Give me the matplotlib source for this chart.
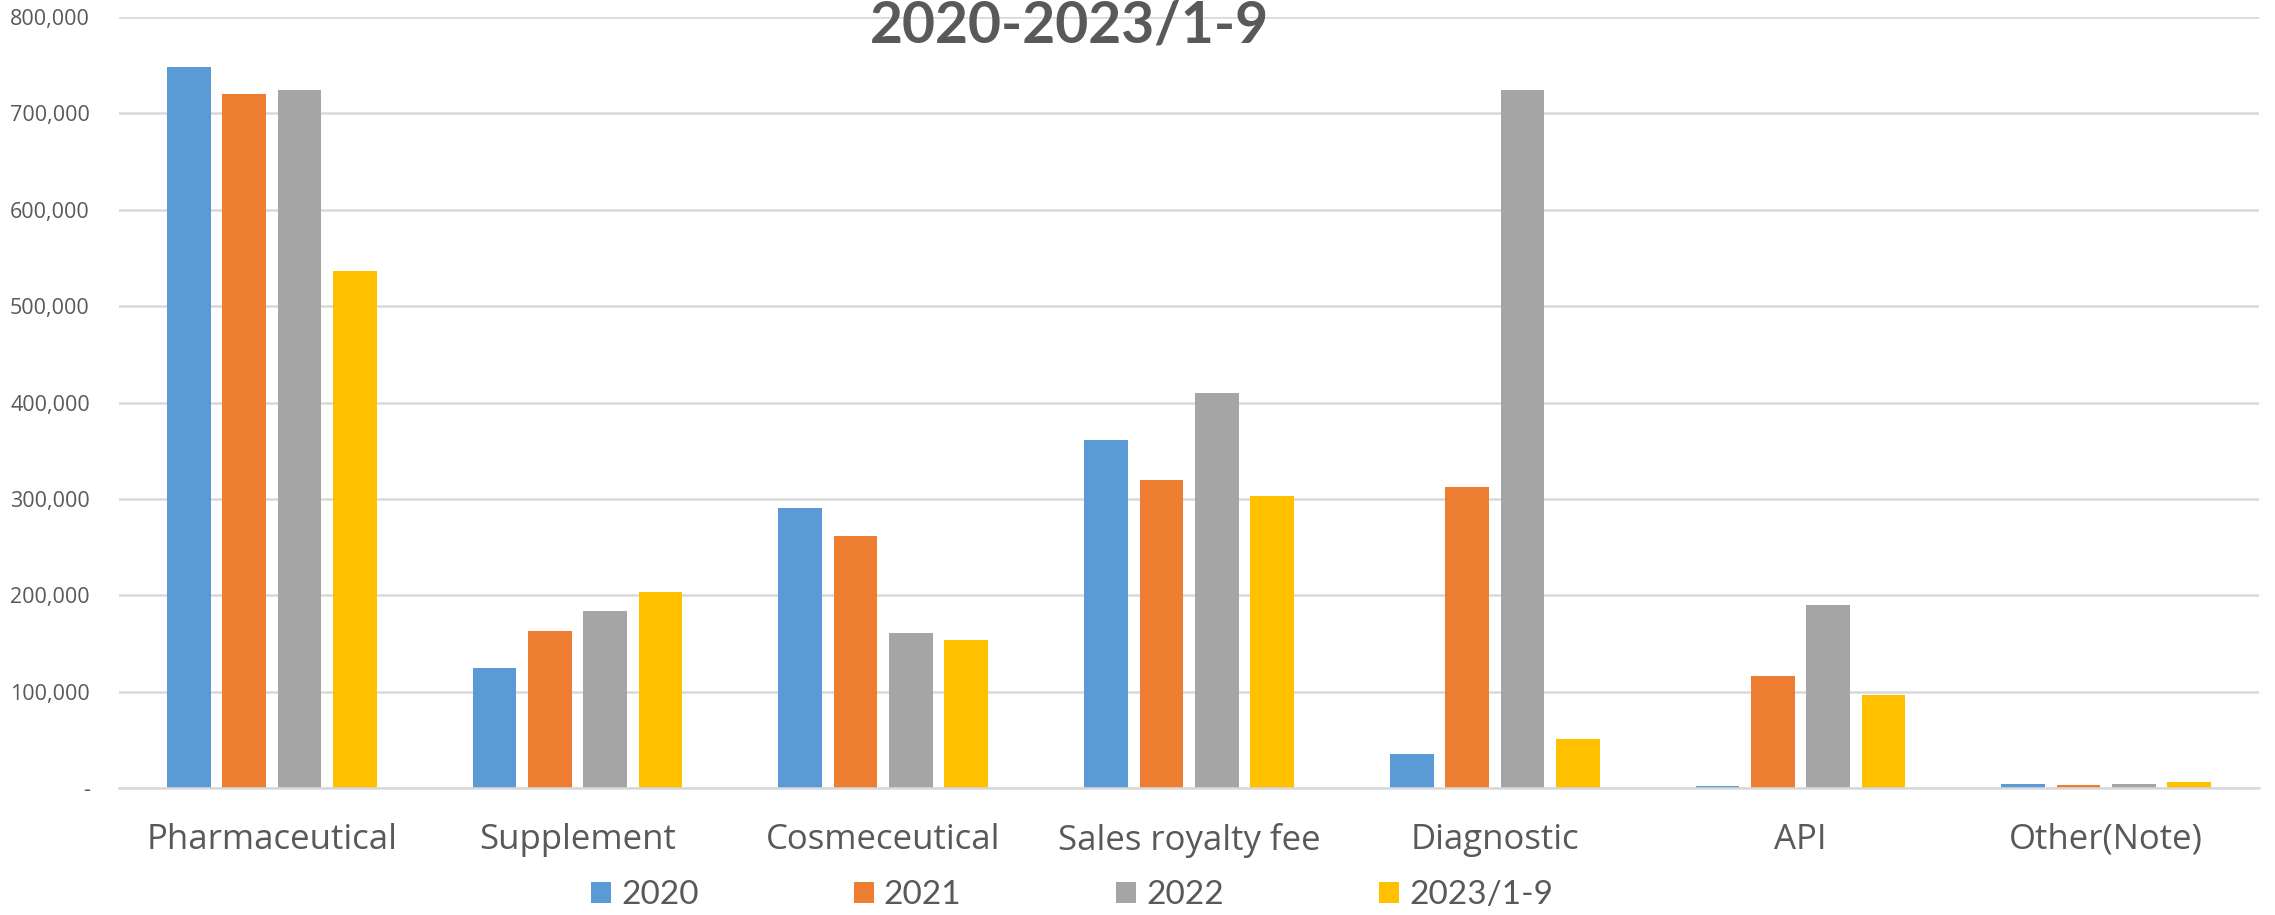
import numpy as np
import matplotlib.pyplot as plt
from matplotlib.ticker import FuncFormatter

categories = ["Pharmaceutical", "Supplement", "Cosmeceutical", "Sales royalty fee",
              "Diagnostic", "API", "Other(Note)"]
series_names = ["2020", "2021", "2022", "2023/1-9"]
v2020 = [747500, 125000, 291000, 361000, 36000, 2000, 4800]
v2021 = [719500, 163000, 262000, 320000, 312000, 116000, 3800]
v2022 = [724000, 184000, 161000, 410000, 724000, 190000, 4500]
v2023 = [536000, 204000, 154000, 303000, 51000, 97000, 6600]
colors = ["#5B9BD5", "#ED7D31", "#A5A5A5", "#FFC000"]

text_color = "#595959"
grid_color = "#D9D9D9"

fig = plt.figure(figsize=(22.75, 9.15), dpi=100)
ax = fig.add_axes([0.0523, 0.1385, 0.9407, 0.8432])

x = np.arange(len(categories))
width = 0.143
pitch = 0.181
for i, (vals, name) in enumerate(zip([v2020, v2021, v2022, v2023], series_names)):
    ax.bar(x + (i - 1.5) * pitch, vals, width, color=colors[i], label=name,
           linewidth=0, zorder=3)

ax.set_xlim(-0.5, len(categories) - 0.5)
ax.set_ylim(0, 800000)
ax.set_yticks(np.arange(0, 800001, 100000))
ax.yaxis.set_major_formatter(FuncFormatter(lambda v, p: "-" if v == 0 else f"{int(v):,}"))
ax.grid(axis="y", color=grid_color, linewidth=1.8, zorder=0)
for s in ["top", "right", "left"]:
    ax.spines[s].set_visible(False)
ax.spines["bottom"].set_color(grid_color)
ax.spines["bottom"].set_linewidth(1.8)
ax.spines["bottom"].set_zorder(4)

ax.set_xticks(x)
ax.set_xticklabels(categories, fontfamily="Open Sans", fontsize=25, color=text_color)
ax.tick_params(axis="x", length=0, pad=25)
ax.tick_params(axis="y", length=0, pad=21, labelsize=15.5, labelcolor=text_color)
for lbl in ax.get_yticklabels():
    lbl.set_fontfamily("Open Sans")

fig.text(1069 / 2275, 1 - 26 / 915, "2020-2023/1-9", ha="center", va="center",
         fontsize=41, fontweight="bold", fontfamily="Lato", color=text_color)

leg = fig.legend(loc="center", bbox_to_anchor=(1072 / 2275, 1 - 895 / 915), ncol=4,
                 frameon=False, handlelength=0.6, handleheight=0.6, handletextpad=0.3,
                 columnspacing=4.65, prop={"family": "Lato", "size": 24})
for t in leg.get_texts():
    t.set_color(text_color)

fig.savefig("out.png", dpi=100)
